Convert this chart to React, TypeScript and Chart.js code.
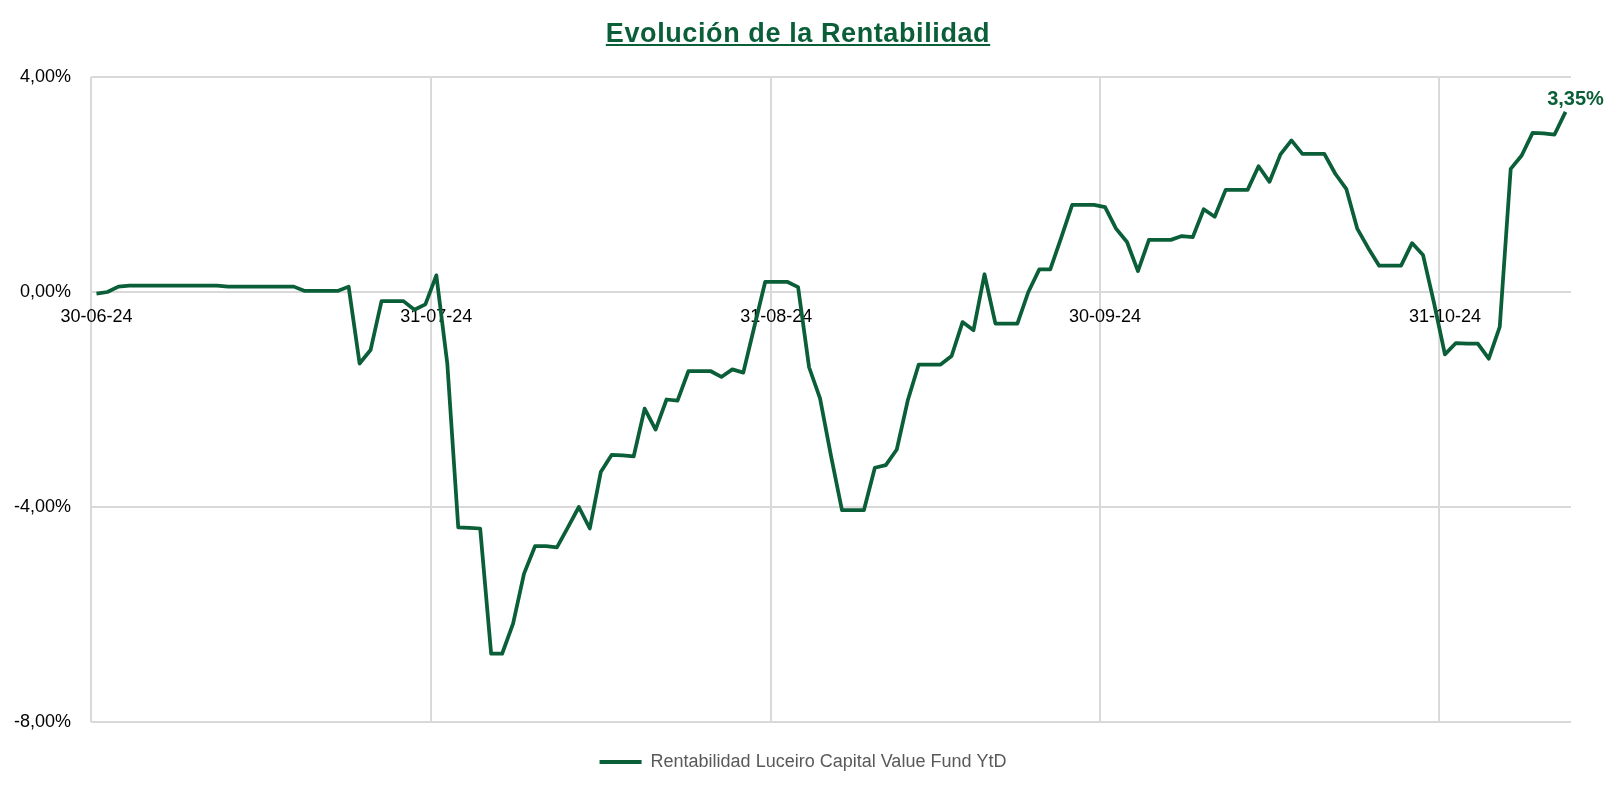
import React, { useEffect, useRef } from 'react';
import { Chart, registerables } from 'chart.js';

Chart.register(...registerables);

const TITLE = 'Evolución de la Rentabilidad';
const SERIES_LABEL = 'Rentabilidad Luceiro Capital Value Fund YtD';
const START_DATE = '30-06-24';
const X_TICK_LABELS = ['30-06-24', '31-07-24', '31-08-24', '30-09-24', '31-10-24'];
const Y_MIN = -8;
const Y_MAX = 4;
const Y_STEP = 4;

// Daily YtD return (%), weekends carry the previous Friday's value
const june = [-0.03];
const july = [
  0.0, 0.1, 0.12, 0.12, 0.12, 0.12, 0.12, 0.12, 0.12, 0.12,
  0.12, 0.1, 0.1, 0.1, 0.1, 0.1, 0.1, 0.1, 0.02, 0.02,
  0.02, 0.02, 0.1, -1.33, -1.08, -0.17, -0.17, -0.17, -0.33, -0.23,
  0.31,
];
const august = [
  -1.33, -4.38, -4.39, -4.4, -6.73, -6.73, -6.17, -5.24, -4.73, -4.73,
  -4.75, -4.38, -4.0, -4.4, -3.35, -3.03, -3.04, -3.06, -2.17, -2.56,
  -2.0, -2.02, -1.47, -1.47, -1.47, -1.58, -1.44, -1.5, -0.65, 0.19,
  0.19,
];
const september = [
  0.19, 0.09, -1.4, -1.98, -3.05, -4.06, -4.06, -4.06, -3.27, -3.22,
  -2.93, -2.02, -1.35, -1.35, -1.35, -1.19, -0.56, -0.71, 0.33, -0.59,
  -0.59, -0.59, 0.0, 0.42, 0.42, 1.01, 1.62, 1.62, 1.62, 1.58,
];
const october = [
  1.18, 0.93, 0.39, 0.97, 0.97, 0.97, 1.04, 1.02, 1.54, 1.4,
  1.9, 1.9, 1.9, 2.34, 2.05, 2.56, 2.82, 2.57, 2.57, 2.57,
  2.2, 1.92, 1.18, 0.82, 0.49, 0.49, 0.49, 0.91, 0.69, -0.2,
  -1.16,
];
const november = [-0.95, -0.96, -0.96, -1.24, -0.65, 2.29, 2.54, 2.96, 2.95, 2.93, 3.35];

const values = [...june, ...july, ...august, ...september, ...october, ...november];

const GREEN = '#0A5E38';
const GRID = '#D9D9D9';
const FONT = '"Liberation Sans", Arial, sans-serif';

const DAY_MS = 86400000;
function parseDate(label: string): number {
  const [d, m, y] = label.split('-').map(Number);
  return Date.UTC(2000 + y, m - 1, d);
}
function dayIndex(label: string): number {
  return Math.round((parseDate(label) - parseDate(START_DATE)) / DAY_MS);
}
const tickDays = X_TICK_LABELS.map(dayIndex);
const fmtPct = (v: number) => v.toFixed(2).replace('.', ',') + '%';

export default function App() {
  const canvasRef = useRef<HTMLCanvasElement | null>(null);

  useEffect(() => {
    document.body.style.margin = '0';
    const canvas = canvasRef.current;
    if (!canvas) return;

    const titlePlugin = {
      id: 'titleUnderline',
      afterDraw(chart: any) {
        const ctx = chart.ctx;
        const legend = chart.legend;
        const cx = (legend.left + legend.right) / 2 - 5;
        ctx.save();
        ctx.font = `bold 27px ${FONT}`;
        (ctx as any).letterSpacing = '0.6px';
        ctx.fillStyle = GREEN;
        ctx.textAlign = 'center';
        ctx.textBaseline = 'alphabetic';
        ctx.fillText(TITLE, cx, 42);
        const w = ctx.measureText(TITLE).width;
        ctx.strokeStyle = GREEN;
        ctx.lineWidth = 2;
        ctx.beginPath();
        ctx.moveTo(cx - w / 2, 45);
        ctx.lineTo(cx + w / 2, 45);
        ctx.stroke();
        ctx.restore();
      },
    };

    const lastLabelPlugin = {
      id: 'lastLabel',
      afterDatasetsDraw(chart: any) {
        const meta = chart.getDatasetMeta(0);
        const el = meta.data[meta.data.length - 1];
        if (!el) return;
        const ctx = chart.ctx;
        ctx.save();
        ctx.font = `bold 20px ${FONT}`;
        ctx.fillStyle = GREEN;
        ctx.textAlign = 'center';
        ctx.textBaseline = 'middle';
        ctx.fillText(fmtPct(values[values.length - 1]), el.x + 10, el.y - 12);
        ctx.restore();
      },
    };

    const chart = new Chart(canvas, {
      type: 'line',
      data: {
        datasets: [
          {
            label: SERIES_LABEL,
            data: values.map((v, i) => ({ x: i + 0.5, y: v })),
            borderColor: GREEN,
            backgroundColor: GREEN,
            borderWidth: 3.75,
            pointRadius: 0,
            pointHoverRadius: 0,
            tension: 0,
            fill: false,
            borderJoinStyle: 'round',
          },
        ],
      },
      options: {
        animation: false,
        responsive: true,
        maintainAspectRatio: false,
        layout: { padding: { top: 77, left: 14, right: 32, bottom: 12 } },
        scales: {
          x: {
            type: 'linear',
            position: { y: 0 } as any,
            min: 0,
            max: values.length,
            afterBuildTicks: (scale: any) => {
              scale.ticks = tickDays.map((v) => ({ value: v }));
            },
            ticks: {
              autoSkip: false,
              maxRotation: 0,
              minRotation: 0,
              padding: 14,
              labelOffset: 5.5,
              color: '#000',
              font: { size: 18, family: FONT },
              callback: (value: any) => {
                const i = tickDays.indexOf(Number(value));
                return i >= 0 ? X_TICK_LABELS[i] : '';
              },
            },
            grid: { color: GRID, lineWidth: 2, drawTicks: false },
            border: { display: false },
          },
          y: {
            min: Y_MIN,
            max: Y_MAX,
            afterFit: (scale: any) => {
              scale.width = 77;
            },
            ticks: {
              stepSize: Y_STEP,
              padding: 20,
              color: '#000',
              font: { size: 18, family: FONT },
              callback: (v: any) => fmtPct(Number(v)),
            },
            grid: { color: GRID, lineWidth: 2, drawTicks: false },
            border: { display: false },
          },
          yRight: {
            type: 'linear',
            position: 'right',
            min: Y_MIN,
            max: Y_MAX,
            afterFit: (scale: any) => {
              scale.width = 21;
            },
            ticks: { display: false },
            grid: { display: false, drawOnChartArea: false },
            border: { display: false },
          },
        },
        plugins: {
          title: { display: false },
          tooltip: { enabled: false },
          legend: {
            position: 'bottom',
            labels: {
              boxWidth: 42,
              boxHeight: 4,
              padding: 31,
              color: '#595959',
              font: { size: 18, family: FONT },
              generateLabels: (c: any) => {
                const items = (Chart.defaults.plugins.legend.labels as any).generateLabels(c);
                items.forEach((it: any) => {
                  it.lineWidth = 0;
                  it.fillStyle = GREEN;
                  it.strokeStyle = GREEN;
                });
                return items;
              },
            },
          },
        },
      } as any,
      plugins: [titlePlugin, lastLabelPlugin],
    });

    return () => chart.destroy();
  }, []);

  return (
    <div style={{ position: 'relative', width: '1624px', height: '793px' }}>
      <canvas ref={canvasRef} />
    </div>
  );
}
